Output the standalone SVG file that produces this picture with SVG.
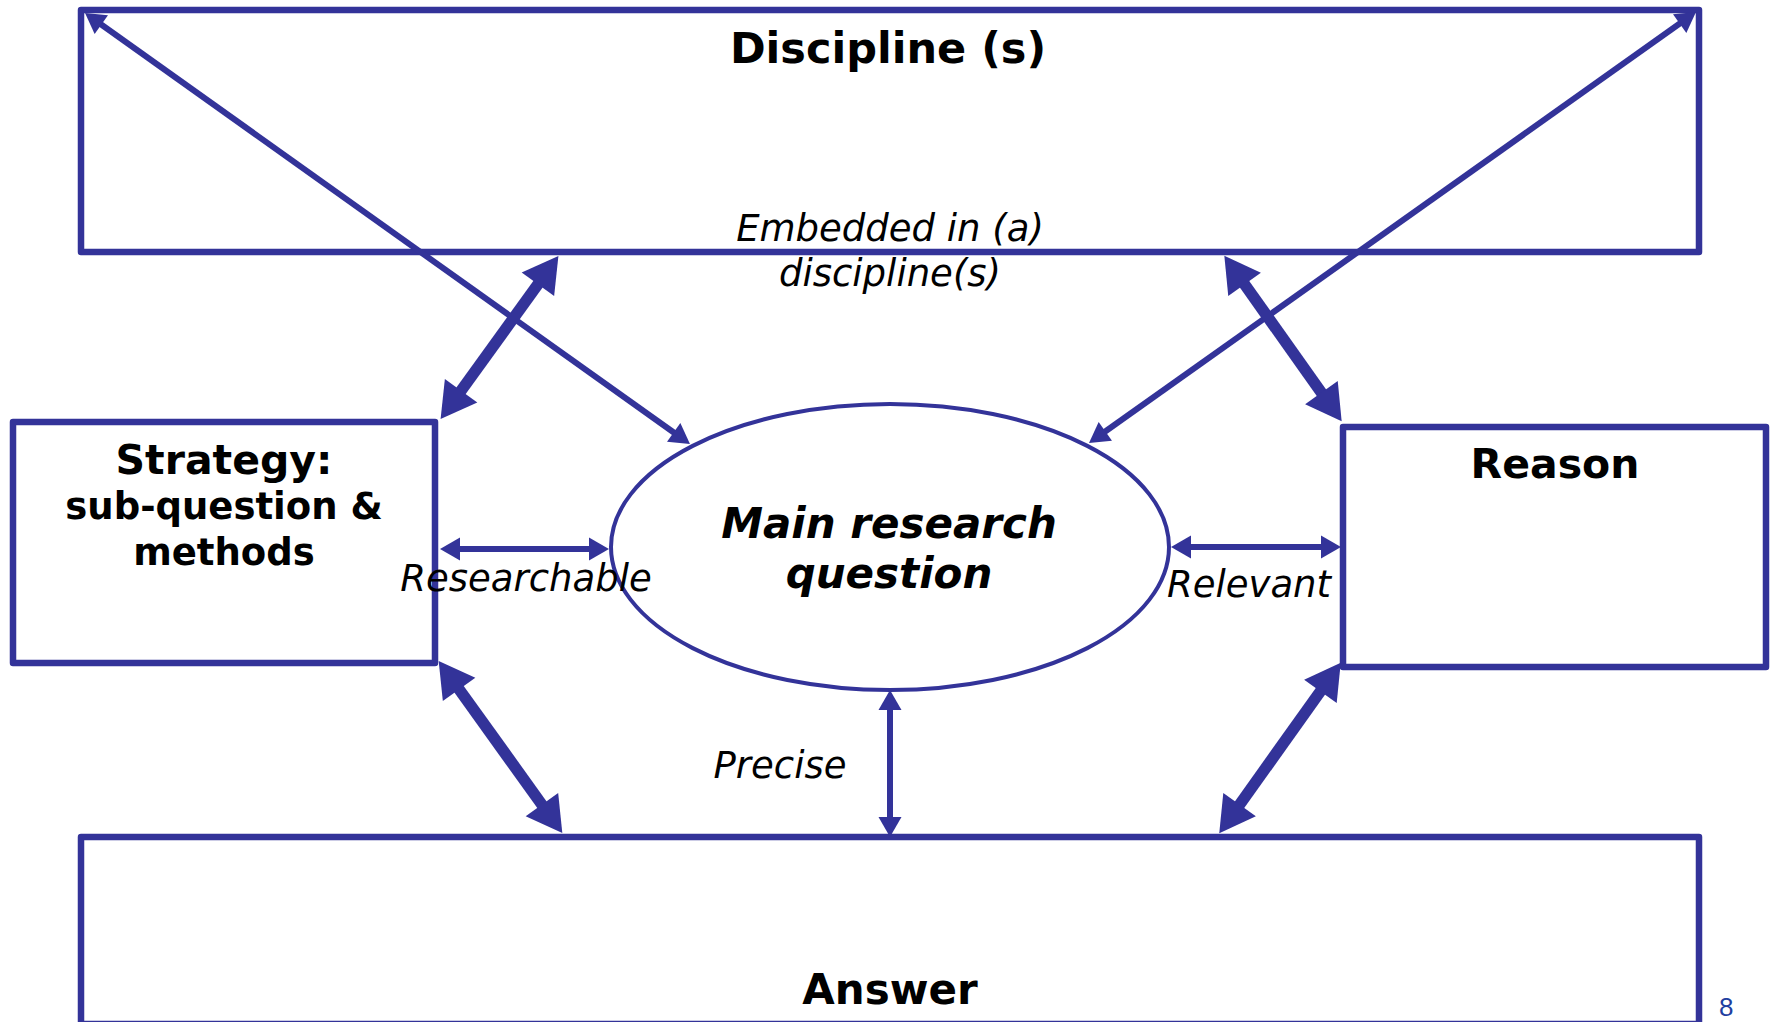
<svg xmlns="http://www.w3.org/2000/svg" width="1773" height="1022" viewBox="0 0 1773 1022">
  <style>
    .box { fill: none; stroke: #333399; stroke-width: 6.5; stroke-linejoin: round; }
    .oval { fill: none; stroke: #333399; stroke-width: 4; }
    .thin { stroke: #333399; stroke-width: 6; fill: none; marker-start: url(#headThin); marker-end: url(#headThin); }
    .thick { stroke: #333399; stroke-width: 11.5; fill: none; marker-start: url(#headThick); marker-end: url(#headThick); }
    .t { font-family: "DejaVu Sans", Verdana, sans-serif; fill: #000; text-anchor: middle; }
    .b { font-weight: bold; }
    .i { font-style: italic; }
    .pg { font-family: "Liberation Sans", Arial, sans-serif; font-size: 26px; fill: #1f3fa0; }
  </style>
  <defs>
    <marker id="headThin" markerUnits="userSpaceOnUse" markerWidth="22" markerHeight="26" refX="1" refY="11.5" orient="auto-start-reverse" overflow="visible">
      <path d="M0,0 L20,11.5 L0,23 z" fill="#333399"/>
    </marker>
    <marker id="headThick" markerUnits="userSpaceOnUse" markerWidth="38" markerHeight="42" refX="1" refY="20" orient="auto-start-reverse" overflow="visible">
      <path d="M0,0 L35,20 L0,40 z" fill="#333399"/>
    </marker>
  </defs>

  <g id="discipline">
    <rect class="box" x="81" y="10" width="1618" height="242"/>
    <text class="t b" x="888" y="63" font-size="43">Discipline (s)</text>
  </g>

  <g id="strategy">
    <rect class="box" x="13" y="422" width="422" height="241"/>
    <text class="t b" x="224" y="474" font-size="41">Strategy:</text>
    <text class="t b" x="224" y="519" font-size="37">sub-question &amp;</text>
    <text class="t b" x="224" y="565" font-size="37">methods</text>
  </g>

  <g id="reason">
    <rect class="box" x="1343" y="427" width="423" height="240"/>
    <text class="t b" x="1555" y="478" font-size="41">Reason</text>
  </g>

  <g id="answer">
    <rect class="box" x="81" y="837" width="1618" height="187"/>
    <text class="t b" x="890" y="1004" font-size="42">Answer</text>
  </g>

  <g id="main-question">
    <ellipse class="oval" cx="890" cy="547" rx="279" ry="143"/>
    <text class="t b i" x="889" y="538" font-size="42">Main research</text>
    <text class="t b i" x="889" y="588" font-size="42">question</text>
  </g>

  <g id="connectors">
    <line class="thin" x1="100.5" y1="24" x2="674.5" y2="433"/>
    <line class="thin" x1="1680.5" y1="23" x2="1104.5" y2="432"/>
    <line class="thick" x1="460.5" y1="391.5" x2="538.5" y2="283.5"/>
    <line class="thick" x1="458.5" y1="688.5" x2="542.5" y2="805.5"/>
    <line class="thick" x1="1322" y1="393.5" x2="1244" y2="283.5"/>
    <line class="thick" x1="1321" y1="690.5" x2="1239" y2="805.5"/>
    <line class="thin" x1="459" y1="549" x2="590" y2="549"/>
    <line class="thin" x1="1190" y1="547" x2="1322" y2="547"/>
    <line class="thin" x1="890" y1="709" x2="890" y2="818"/>
  </g>

  <g id="labels">
    <text class="t i" x="890" y="241" font-size="37">Embedded in (a)</text>
    <text class="t i" x="890" y="286" font-size="37">discipline(s)</text>
    <text class="t i" x="526" y="591" font-size="37">Researchable</text>
    <text class="t i" x="1249" y="597" font-size="37">Relevant</text>
    <text class="t i" x="780" y="778" font-size="37">Precise</text>
  </g>

  <text class="pg" x="1719" y="1016">8</text>
</svg>
